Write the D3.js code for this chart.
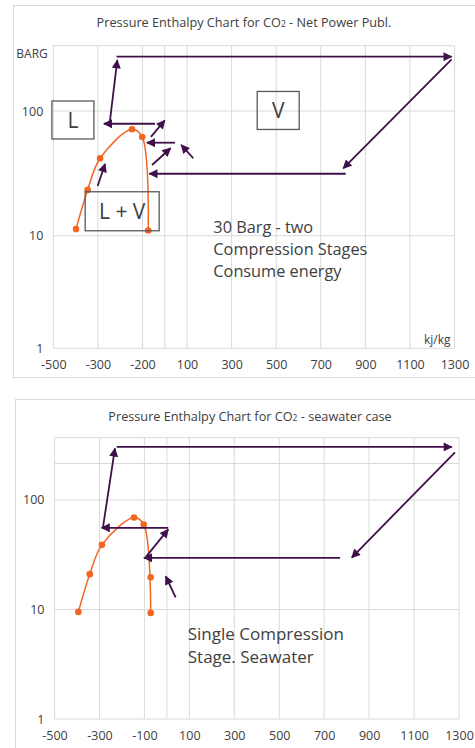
<!DOCTYPE html>
<html>
<head>
<meta charset="utf-8">
<title>Pressure Enthalpy Chart for CO2</title>
<script src="https://cdn.jsdelivr.net/npm/d3@7/dist/d3.min.js"></script>
<style>
  body { margin: 0; background: #fff; }
  text { font-family: "Open Sans", sans-serif; fill: #404040; }
</style>
</head>
<body>
<svg width="475" height="748" id="mainsvg"></svg>
<script>
// x axis: gridlines every 200 kJ/kg plus one at 0, labels as printed
const xTicks = [-500, -300, -100, 100, 300, 500, 700, 900, 1100, 1300];
const xExtraGrid = [0];
const xLabelsTop = ['-500', '-300', '-200', '100', '300', '500', '700', '900', '1100', '1300'];
const xLabelsBottom = ['-500', '-300', '-100', '100', '300', '500', '700', '900', '1100', '1300'];

// y axis (pressure, log)
const yTicks = [1, 10, 100];
const yGridTop = [1, 10, 100, 330];
const yGridBottom = [1, 10, 100, 215, 370];

// saturation dome, Net Power case
const topEnthalpy = [-398, -346, -290, -147, -101, -74];
const topPressure = [11.3, 23.3, 41.8, 71.3, 61.8, 11];

// saturation dome, seawater case
const botEnthalpy = [-394, -343, -289, -146, -103, -72];
const botPressure = [9.5, 21, 38.9, 69.2, 59.7, 9.3];
const botExtraEnthalpy = [-72];
const botExtraPressure = [19.7];

// process arrows [h1, p1, h2, p2] (tail -> head)
const topArrows = [
  [-246, 83, -213, 253],
  [-216, 270, 1287, 270],
  [1287, 257, 801, 34.7],
  [812, 31.4, -69, 31.4],
  [-44, 79, -273, 79],
  [-62, 62, 0, 84],
  [46, 55.7, -80, 55.7],
  [128, 41.8, 74, 53.4],
  [-57, 36.9, 26, 50.3],
  [-301, 25, -268, 37.6]
];
const botArrows = [
  [-285, 55, -231, 295],
  [-223, 305, 1268, 305],
  [1282, 272, 823, 29.8],
  [771, 29.6, -102, 29.6],
  [6, 55.6, -290, 55.6],
  [-93, 30.2, 6, 53.8],
  [39, 12.9, -5, 20.1]
];

// phase boxes [label, h, p, widthPx, heightPx]
const topBoxes = [
  ['L', -412, 84.7, 42, 38],
  ['V', 509, 101, 42, 38],
  ['L + V', -191, 15.7, 74, 39]
];

const topNote = ['30 Barg - two', 'Compression Stages', 'Consume energy'];
const botNote = ['Single Compression', 'Stage. Seawater'];

const svg = d3.select('#mainsvg');
const orange = '#f26522';
const purple = '#3f1049';
const gridColor = '#d9d9d9';

const defs = svg.append('defs');
defs.append('marker')
  .attr('id', 'head')
  .attr('viewBox', '0 0 10 10')
  .attr('refX', 9).attr('refY', 5)
  .attr('markerWidth', 11).attr('markerHeight', 9)
  .attr('markerUnits', 'userSpaceOnUse')
  .attr('orient', 'auto')
  .append('path').attr('d', 'M0,0 L10,5 L0,10 Z').attr('fill', purple);

function drawChart(cfg) {
  const g = svg.append('g');

  // outer frame
  g.append('rect')
    .attr('x', cfg.frame[0]).attr('y', cfg.frame[1])
    .attr('width', 500).attr('height', cfg.frame[2])
    .attr('fill', 'none').attr('stroke', gridColor);

  // title with subscript 2
  const title = g.append('text')
    .attr('x', cfg.titleX).attr('y', cfg.titleY)
    .attr('text-anchor', 'middle').attr('font-size', '12.7px');
  title.append('tspan').text('Pressure Enthalpy Chart for CO');
  title.append('tspan').attr('font-size', '8.5px').text('2');
  title.append('tspan').text(cfg.titleEnd);

  const xScale = d3.scaleLinear().domain([-500, 1300]).range([cfg.left, cfg.right]);
  const yScale = d3.scaleLog().domain(cfg.yDomain).range(cfg.yRange);

  // gridlines
  g.selectAll('.vgrid').data(xTicks.concat(xExtraGrid)).join('line')
    .attr('class', 'vgrid')
    .attr('x1', d => xScale(d)).attr('x2', d => xScale(d))
    .attr('y1', yScale(cfg.yDomain[0])).attr('y2', yScale(cfg.yDomain[cfg.yDomain.length - 1]))
    .attr('stroke', gridColor);
  g.selectAll('.hgrid').data(cfg.yGrid).join('line')
    .attr('class', 'hgrid')
    .attr('x1', cfg.left).attr('x2', cfg.right)
    .attr('y1', d => yScale(d)).attr('y2', d => yScale(d))
    .attr('stroke', gridColor);

  // axes (labels only)
  const xAxis = d3.axisBottom(xScale)
    .tickValues(xTicks)
    .tickFormat((d, i) => cfg.xLabels[i])
    .tickSize(0).tickPadding(12);
  const xg = g.append('g').attr('transform', `translate(0, ${yScale(1)})`).call(xAxis);
  xg.select('.domain').remove();
  xg.selectAll('text').attr('font-size', '12.5px').attr('font-family', null).attr('fill', '#404040');

  const yAxis = d3.axisLeft(yScale)
    .tickValues(yTicks)
    .tickFormat(d3.format('d'))
    .tickSize(0).tickPadding(10);
  const yg = g.append('g').attr('transform', `translate(${cfg.left}, 0)`).call(yAxis);
  yg.select('.domain').remove();
  yg.selectAll('text').attr('font-size', '12.5px').attr('font-family', null).attr('fill', '#404040');

  // saturation curve
  const pts = cfg.h.map((h, i) => [h, cfg.p[i]]);
  const line = d3.line()
    .x(d => xScale(d[0])).y(d => yScale(d[1]))
    .curve(d3.curveCatmullRom.alpha(0.5));
  g.append('path').datum(pts)
    .attr('d', line).attr('fill', 'none')
    .attr('stroke', orange).attr('stroke-width', 1.5);
  const dots = pts.concat(cfg.extraH.map((h, i) => [h, cfg.extraP[i]]));
  g.selectAll('.dot').data(dots).join('circle')
    .attr('class', 'dot')
    .attr('cx', d => xScale(d[0])).attr('cy', d => yScale(d[1]))
    .attr('r', 3.3).attr('fill', orange);

  // arrows
  g.selectAll('.arrow').data(cfg.arrows).join('line')
    .attr('class', 'arrow')
    .attr('x1', d => xScale(d[0])).attr('y1', d => yScale(d[1]))
    .attr('x2', d => xScale(d[2])).attr('y2', d => yScale(d[3]))
    .attr('stroke', purple).attr('stroke-width', 1.8)
    .attr('marker-end', 'url(#head)');

  // phase boxes
  const box = g.selectAll('.box').data(cfg.boxes).join('g')
    .attr('class', 'box')
    .attr('transform', d => `translate(${xScale(d[1])}, ${yScale(d[2])})`);
  box.append('rect')
    .attr('x', d => -d[3] / 2).attr('y', d => -d[4] / 2)
    .attr('width', d => d[3]).attr('height', d => d[4])
    .attr('fill', 'none').attr('stroke', '#595959').attr('stroke-width', 1.3);
  box.append('text')
    .attr('text-anchor', 'middle').attr('dy', '0.36em')
    .attr('font-size', '21px').text(d => d[0]);

  // note text
  g.append('text')
    .attr('x', xScale(cfg.noteAt[0])).attr('y', yScale(cfg.noteAt[1]))
    .attr('font-size', cfg.noteSize)
    .selectAll('tspan').data(cfg.note).join('tspan')
    .attr('x', xScale(cfg.noteAt[0]))
    .attr('dy', (d, i) => i === 0 ? '0.36em' : cfg.noteGap)
    .text(d => d);

  return { g, xScale, yScale };
}

const topChart = drawChart({
  frame: [13.5, 5.5, 372],
  titleX: 244, titleY: 27, titleEnd: ' - Net Power Publ.',
  left: 53.3, right: 454.5,
  yDomain: [1, 10, 100, 330], yRange: [348.3, 235.7, 111, 45.7],
  yGrid: yGridTop, xLabels: xLabelsTop,
  h: topEnthalpy, p: topPressure, extraH: [], extraP: [],
  arrows: topArrows, boxes: topBoxes,
  note: topNote, noteAt: [218, 11.8], noteGap: 22, noteSize: '16.3px'
});
// unit labels
topChart.g.append('text')
  .attr('x', topChart.xScale(-500) - 37).attr('y', topChart.yScale(330) + 8)
  .attr('dy', '0.36em').attr('font-size', '12px').text('BARG');
topChart.g.append('text')
  .attr('x', topChart.xScale(1300) - 4).attr('y', topChart.yScale(1) - 9)
  .attr('dy', '0.36em').attr('text-anchor', 'end').attr('font-size', '12px').text('kj/kg');

drawChart({
  frame: [15.5, 399.5, 400],
  titleX: 250, titleY: 421, titleEnd: ' - seawater case',
  left: 54.5, right: 459,
  yDomain: [1, 370], yRange: [719, 437.7],
  yGrid: yGridBottom, xLabels: xLabelsBottom,
  h: botEnthalpy, p: botPressure, extraH: botExtraEnthalpy, extraP: botExtraPressure,
  arrows: botArrows, boxes: [],
  note: botNote, noteAt: [93, 5.97], noteGap: 22.7, noteSize: '17px'
});
</script>
</body>
</html>
